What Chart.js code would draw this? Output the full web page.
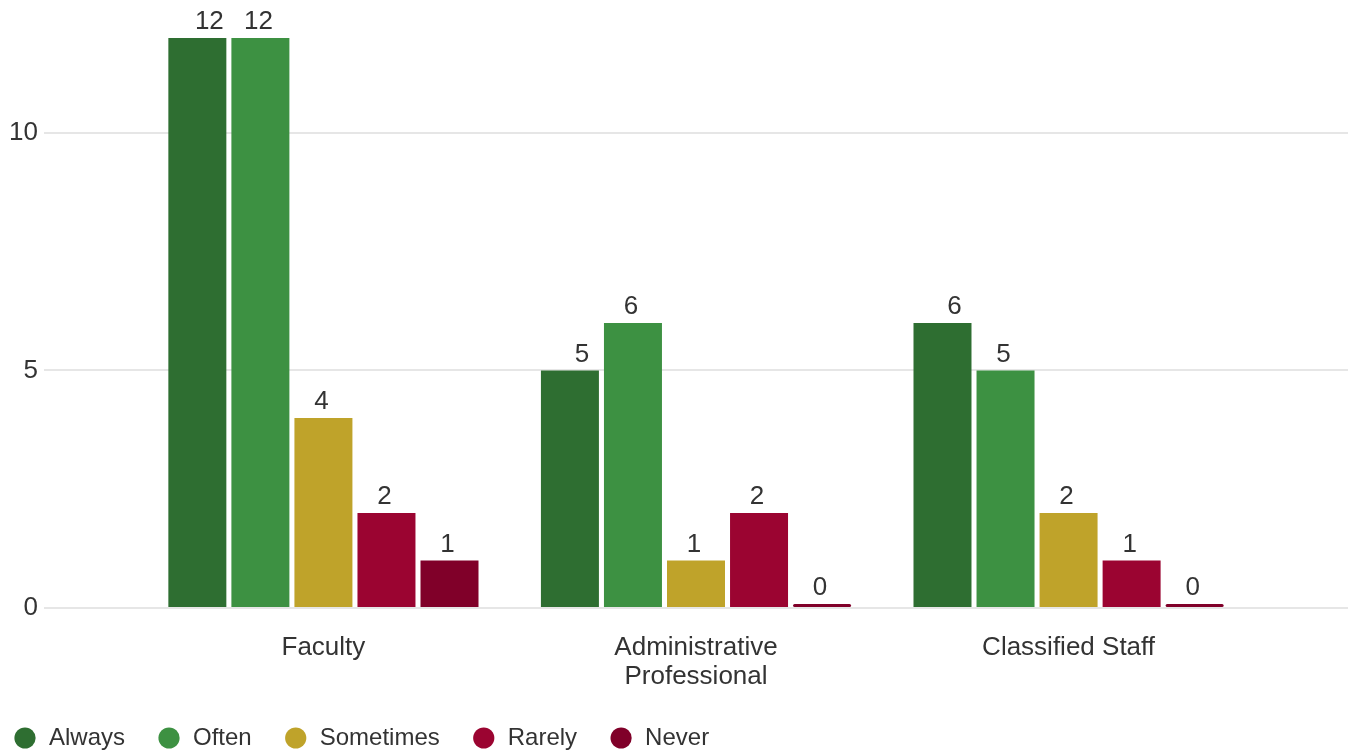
<!DOCTYPE html>
<html>
<head>
<meta charset="utf-8">
<script src="https://cdn.jsdelivr.net/npm/chart.js@4/dist/chart.umd.min.js"></script>
<style>
  html, body { margin: 0; padding: 0; background: #fff; }
  #wrap { width: 1355px; height: 753px; }
</style>
</head>
<body>
<div id="wrap"><canvas id="dataChart"></canvas></div>
<script>
// categories (multi-line labels as arrays)
const categories = [['Faculty'], ['Administrative', 'Professional'], ['Classified Staff']];
const seriesNames = ['Always', 'Often', 'Sometimes', 'Rarely', 'Never'];

// counts per category
const always = [12, 5, 6];
const often = [12, 6, 5];
const sometimes = [4, 1, 2];
const rarely = [2, 2, 1];
const never = [1, 0, 0];

const yTicks = [0, 5, 10];

const seriesColors = ['#2e6e31', '#3d9142', '#bfa32a', '#9b0431', '#800029'];
// horizontal nudge of the value labels, per series (the reference pushes the first one right)
const labelNudge = [12, -2, -2, -2, -2];

Chart.defaults.font.family = '"Liberation Sans", Arial, sans-serif';
Chart.defaults.color = '#333';

// draws the number above each bar
const valueLabels = {
    id: 'valueLabels',
    afterDatasetsDraw(chart) {
        const ctx = chart.ctx;
        ctx.save();
        ctx.font = '26px "Liberation Sans", Arial, sans-serif';
        ctx.fillStyle = '#333';
        ctx.textAlign = 'center';
        ctx.textBaseline = 'alphabetic';
        chart.data.datasets.forEach((ds, di) => {
            chart.getDatasetMeta(di).data.forEach((bar, i) => {
                ctx.fillText(ds.data[i].y, bar.x + labelNudge[di], bar.y - 9);
            });
        });
        ctx.restore();
    }
};

// legend in the reference starts closer to the left edge than the item padding
const legendShift = {
    id: 'legendShift',
    afterLayout(chart) {
        chart.legend.left -= 19;
    }
};

function renderChart() {
    const seriesValues = [always, often, sometimes, rarely, never];
    const datasets = seriesNames.map((name, s) => ({
        label: name,
        data: seriesValues[s].map((v, i) => ({ x: i, y: v })),
        backgroundColor: seriesColors[s],
        borderWidth: 0,
        barPercentage: 0.92,
        categoryPercentage: 0.846,
        minBarLength: 4,
        borderSkipped: (c) => (c.raw && c.raw.y === 0) ? false : 'start',
        borderRadius: (c) => (c.raw && c.raw.y === 0) ? 3 : 0
    }));

    const ctx = document.getElementById('dataChart').getContext('2d');
    new Chart(ctx, {
        type: 'bar',
        data: { datasets: datasets },
        options: {
            responsive: true,
            maintainAspectRatio: false,
            animation: false,
            layout: { padding: { top: 38, right: 7, left: 0, bottom: -7 } },
            plugins: {
                tooltip: { enabled: false },
                legend: {
                    position: 'bottom',
                    align: 'start',
                    labels: {
                        usePointStyle: true,
                        pointStyle: 'circle',
                        boxWidth: 24,
                        boxHeight: 15,
                        padding: 32,
                        font: { size: 24 },
                        color: '#333'
                    }
                }
            },
            scales: {
                x: {
                    type: 'linear',
                    offset: false,
                    min: -0.75,
                    max: 2.75,
                    afterBuildTicks: (s) => { s.ticks = categories.map((c, i) => ({ value: i })); },
                    afterFit: (s) => { s.height = 86; },
                    ticks: {
                        callback: (v) => categories[v],
                        autoSkip: false,
                        maxRotation: 0,
                        padding: 25,
                        font: { size: 26, lineHeight: 1.115 },
                        color: '#333'
                    },
                    grid: { display: false, drawTicks: false, offset: false },
                    border: { display: false }
                },
                y: {
                    min: 0,
                    max: 12,
                    afterBuildTicks: (s) => { s.ticks = yTicks.map(v => ({ value: v })); },
                    afterFit: (s) => { s.width = 44; },
                    ticks: {
                        padding: 6,
                        font: { size: 26 },
                        color: '#333'
                    },
                    grid: { color: '#e6e6e6', lineWidth: 2, drawTicks: false },
                    border: { display: false }
                }
            }
        },
        plugins: [valueLabels, legendShift]
    });
}

renderChart();
</script>
</body>
</html>
